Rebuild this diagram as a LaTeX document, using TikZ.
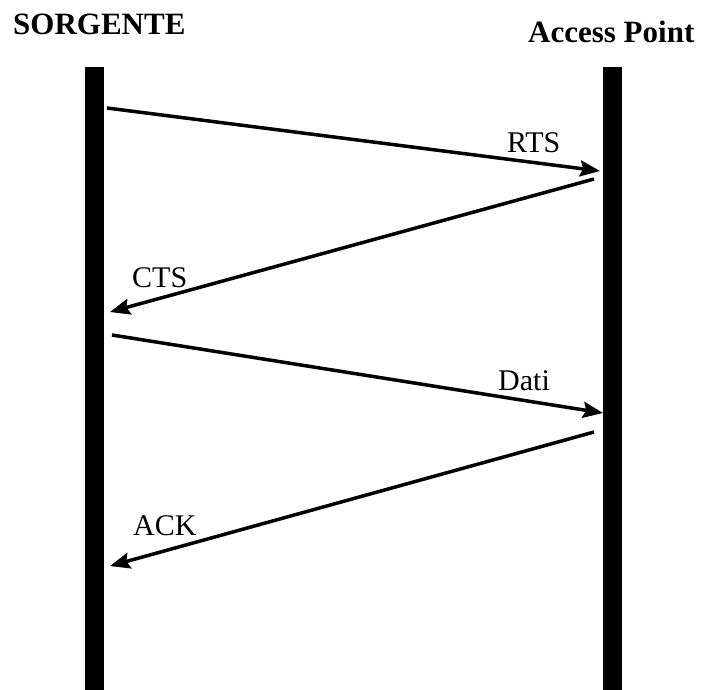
\documentclass[tikz,border=0pt]{standalone}
\usepackage{fontspec}
\setmainfont{Liberation Serif}
\usetikzlibrary{arrows.meta}

\begin{document}
\begin{tikzpicture}[x=1pt,y=-1pt,
        lifeline/.style={line width=19pt},
        msg/.style={line width=3.5pt,-{Stealth[length=20pt,width=16pt,inset=3pt]}},
        lbl/.style={anchor=base west,inner sep=0pt,font=\fontsize{30}{35}\selectfont},
        title/.style={lbl,font=\fontsize{31}{36}\selectfont\bfseries}]
    \useasboundingbox (0,0) rectangle (701,690);
    % entities
    \node[title] (sorgente) at (13,35) {SORGENTE};
    \node[title] (ap) at (528,43) {Access Point};
    \coordinate (srctop) at (94.5,67);
    \coordinate (srcbot) at (94.5,690);
    \coordinate (aptop) at (612.5,67);
    \coordinate (apbot) at (612.5,690);
    \draw[lifeline] (srctop) -- (srcbot);
    \draw[lifeline] (aptop) -- (apbot);
    % messages
    \coordinate (rtsA) at (107,108);
    \coordinate (rtsB) at (600,171);
    \coordinate (ctsA) at (594,179);
    \coordinate (ctsB) at (110,312);
    \coordinate (datiA) at (112,335);
    \coordinate (datiB) at (603,413);
    \coordinate (ackA) at (594,432);
    \coordinate (ackB) at (110,566);
    \draw[msg] (rtsA) -- (rtsB);
    \draw[msg] (ctsA) -- (ctsB);
    \draw[msg] (datiA) -- (datiB);
    \draw[msg] (ackA) -- (ackB);
    \node[lbl] (rts) at (507,152) {RTS};
    \node[lbl] (cts) at (132,287) {CTS};
    \node[lbl] (dati) at (498,390) {Dati};
    \node[lbl] (ack) at (133,535) {ACK};
\end{tikzpicture}
\end{document}
